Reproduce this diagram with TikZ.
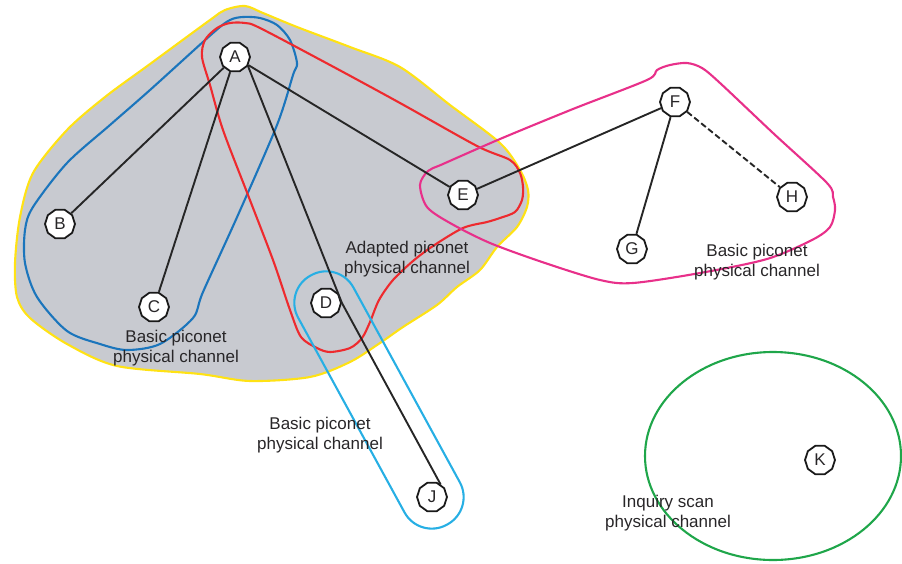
\documentclass[tikz,border=0pt]{standalone}
\usepackage{fontspec}
\setmainfont{Liberation Sans}
\usetikzlibrary{shapes.geometric}

\definecolor{zonegray}{RGB}{200,202,208}
\definecolor{zoneyellow}{RGB}{255,226,20}
\definecolor{zoneblue}{RGB}{27,117,188}
\definecolor{zonered}{RGB}{238,42,46}
\definecolor{zonepink}{RGB}{232,48,138}
\definecolor{zonecyan}{RGB}{39,175,228}
\definecolor{zonegreen}{RGB}{31,166,74}
\definecolor{textdark}{RGB}{40,38,40}

\begin{document}
\begin{tikzpicture}[x=1pt, y=-1pt,
  dev/.style={draw=black!90, fill=white, line width=1.8pt, regular polygon,
    regular polygon sides=10, minimum size=30pt, inner sep=0pt,
    font=\fontsize{17}{17}\selectfont, text=textdark},
  link/.style={line width=1.9pt, draw=black!85},
  zone/.style={line width=2.1pt},
  lbl/.style={align=center, font=\fontsize{17}{20.5}\selectfont, text=textdark}
]
\useasboundingbox (0,0) rectangle (902,563);

% adapted piconet area (grey with yellow rim)
\draw[zone, draw=zoneyellow, fill=zonegray] plot[smooth cycle, tension=0.5] coordinates {
  (245,6) (263,13) (297,27) (350,47) (400,67) (450,105) (500,143) (520,170)
  (528,190) (527,207) (517,227) (497,247) (480,270) (457,287) (437,305)
  (403,327) (380,343) (350,362) (310,377) (250,381) (200,374) (117,366)
  (67,344) (30,318) (17,297) (15,263) (20,217) (33,173) (67,130) (105,97)
  (150,64) (210,20) (225,10)};

% basic piconet A-B-C
\draw[zone, draw=zoneblue] plot[smooth cycle, tension=0.5] coordinates {
  (230,20) (243,17) (260,18) (277,25) (290,40) (297,63) (293,75) (277,125)
  (238,215) (203,292) (193,318) (160,344) (127,350) (100,344) (67,331)
  (37,297) (25,263) (25,230) (33,207) (67,163) (110,125) (150,90) (213,33)};

% adapted piconet A-E-D
\draw[zone, draw=zonered] plot[smooth cycle, tension=0.5] coordinates {
  (205,40) (217,28) (230,23) (245,23) (260,28) (330,65) (400,103) (477,146)
  (510,160) (520,173) (523,187) (522,200) (515,212) (500,218) (487,222)
  (463,228) (433,246) (413,261) (393,280) (379,300) (370,322) (362,338)
  (350,348) (330,352) (317,348) (301,337) (290,310) (273,260) (248,195)
  (223,130) (210,85) (202,57)};

% basic piconet E-F-G-H
\draw[zone, draw=zonepink] plot[smooth cycle, tension=0.5] coordinates {
  (420,185) (428,171) (443,164) (500,139) (573,109) (647,80) (657,70)
  (670,65) (687,63) (702,68) (720,83) (773,133) (827,183) (833,197)
  (835,210) (830,227) (812,240) (767,259) (700,273) (633,283) (600,280)
  (545,263) (490,243) (450,223) (427,207)};

% basic piconet D-J (capsule)
\begin{scope}[shift={(326,303)}, rotate=-61.35]
  \draw[zone, draw=zonecyan, rounded corners=31pt] (-31.5,-31.5) rectangle (252.5,31.5);
\end{scope}

% inquiry scan channel
\draw[zone, draw=zonegreen] (773,456) ellipse [x radius=128pt, y radius=104pt];

% devices
\node[dev] (A) at (235,57) {A};
\node[dev] (B) at (60,224) {B};
\node[dev] (C) at (154,307) {C};
\node[dev] (D) at (326,303) {D};
\node[dev] (E) at (463,195) {E};
\node[dev] (F) at (675,102) {F};
\node[dev] (G) at (632,249) {G};
\node[dev] (H) at (792,197) {H};
\node[dev] (J) at (432,497) {J};
\node[dev] (K) at (820,460) {K};

% links
\draw[link] (A) -- (B);
\draw[link] (A) -- (C);
\draw[link] (A) -- (E);
\draw[link] (A.-35) -- (D.east) -- (J.55);
\draw[link] (E) -- (F);
\draw[link] (F) -- (G);
\draw[link, dashed, dash pattern=on 6pt off 3pt] (F) -- (H);

% channel labels
\node[lbl] (lblAdapted) at (407,259) {Adapted piconet\\physical channel};
\node[lbl] (lblLeft) at (176,348) {Basic piconet\\physical channel};
\node[lbl] (lblMid) at (320,435) {Basic piconet\\physical channel};
\node[lbl] (lblRight) at (757,262) {Basic piconet\\physical channel};
\node[lbl] (lblInq) at (668,513) {Inquiry scan\\physical channel};
\end{tikzpicture}
\end{document}
